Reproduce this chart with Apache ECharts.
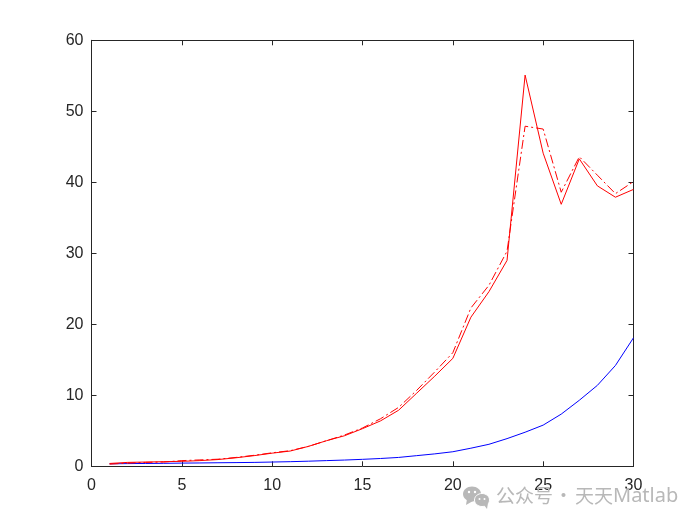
<!DOCTYPE html>
<html>
<head>
<meta charset="utf-8">
<title>chart</title>
<script src="https://cdn.jsdelivr.net/npm/echarts@6/dist/echarts.min.js"></script>
<style>
  html, body { margin: 0; padding: 0; background: #fff; }
  #main { width: 700px; height: 525px; }
</style>
</head>
<body>
<div id="main"></div>
<script>
var days = [1, 2, 3, 4, 5, 6, 7, 8, 9, 10, 11, 12, 13, 14, 15, 16, 17, 18, 19, 20, 21, 22, 23, 24, 25, 26, 27, 28, 29, 30];
var redSolid = [0.4, 0.55, 0.6, 0.65, 0.7, 0.8, 0.95, 1.2, 1.5, 1.85, 2.15, 2.8, 3.6, 4.3, 5.3, 6.4, 7.9, 10.3, 12.7, 15.2, 21, 24.6, 29, 55.1, 44.1, 36.9, 43.3, 39.5, 37.9, 39];
var redDash = [0.3, 0.45, 0.55, 0.6, 0.8, 0.9, 1.0, 1.25, 1.55, 1.9, 2.2, 2.8, 3.6, 4.4, 5.4, 6.7, 8.3, 10.7, 13.3, 16, 22.3, 25.5, 30.3, 47.9, 47.5, 38.6, 43.6, 41, 38.4, 40.1];
var blueLine = [0.35, 0.38, 0.4, 0.42, 0.45, 0.47, 0.5, 0.52, 0.55, 0.6, 0.65, 0.72, 0.8, 0.88, 0.98, 1.1, 1.25, 1.5, 1.75, 2.05, 2.55, 3.1, 3.9, 4.8, 5.8, 7.35, 9.3, 11.4, 14.2, 18.1];
var xTicks = [0, 30];
var yTicks = [0, 60];
var fontName = '"Liberation Sans", Arial, sans-serif';

function toPoints(values) {
  return values.map(function (v, i) { return [days[i], v]; });
}

function makeAxis(pos, range, step, showLabel, labelMargin, labelPadding) {
  return {
    type: 'value',
    position: pos,
    min: range[0],
    max: range[1],
    interval: step,
    splitLine: { show: false },
    axisLine: { show: true, onZero: false, lineStyle: { color: '#262626', width: 1 } },
    axisTick: { show: true, inside: true, length: 5, lineStyle: { color: '#262626', width: 1 } },
    axisLabel: {
      show: showLabel,
      color: '#262626',
      fontFamily: fontName,
      fontSize: 16,
      margin: labelMargin,
      padding: labelPadding,
      showMinLabel: true,
      showMaxLabel: true
    }
  };
}

function makeLine(values, color, dash) {
  return {
    type: 'line',
    data: toPoints(values),
    showSymbol: false,
    symbol: 'none',
    smooth: false,
    xAxisIndex: 0,
    yAxisIndex: 0,
    lineStyle: { color: color, width: 1, type: dash }
  };
}

function markText(text, x, font) {
  return {
    type: 'text', left: x, top: 486, z: 20,
    style: { text: text, fill: '#b8b8b8', font: font }
  };
}

var cjkFont = '19px "Noto Sans CJK SC", sans-serif';

var chart = echarts.init(document.getElementById('main'));
var option = {
  animation: false,
  backgroundColor: '#ffffff',
  grid: { left: 91.5, top: 40.3, width: 542, height: 426, containLabel: false },
  xAxis: [makeAxis('bottom', xTicks, 5, true, 11, 0), makeAxis('top', xTicks, 5, false, 11, 0)],
  yAxis: [makeAxis('left', yTicks, 10, true, 8, [4, 0, 0, 0]), makeAxis('right', yTicks, 10, false, 8, 0)],
  series: [
    makeLine(blueLine, '#0000ff', 'solid'),
    makeLine(redSolid, '#ff0000', 'solid'),
    makeLine(redDash, '#ff0000', [9, 3, 2, 3])
  ],
  // watermark
  graphic: [
    { type: 'ellipse', shape: { cx: 472, cy: 494, rx: 9, ry: 7.5 }, style: { fill: '#b8b8b8' }, z: 20 },
    { type: 'polygon', shape: { points: [[467, 499], [466, 505], [473, 501]] }, style: { fill: '#b8b8b8' }, z: 20 },
    { type: 'ellipse', shape: { cx: 482, cy: 500, rx: 7.5, ry: 6.5 }, style: { fill: '#b8b8b8', stroke: '#fff', lineWidth: 1 }, z: 21 },
    { type: 'polygon', shape: { points: [[484, 505], [487, 509], [488, 503]] }, style: { fill: '#b8b8b8' }, z: 21 },
    { type: 'circle', shape: { cx: 469, cy: 492, r: 1.2 }, style: { fill: '#fff' }, z: 22 },
    { type: 'circle', shape: { cx: 475, cy: 492, r: 1.2 }, style: { fill: '#fff' }, z: 22 },
    { type: 'circle', shape: { cx: 479.5, cy: 499, r: 1 }, style: { fill: '#fff' }, z: 22 },
    { type: 'circle', shape: { cx: 484.5, cy: 499, r: 1 }, style: { fill: '#fff' }, z: 22 },
    markText('公众号', 496, cjkFont),
    markText('·', 554, cjkFont),
    markText('天天', 575, cjkFont),
    markText('Matlab', 613, '20px "Noto Sans", sans-serif')
  ]
};
chart.setOption(option);
</script>
</body>
</html>
